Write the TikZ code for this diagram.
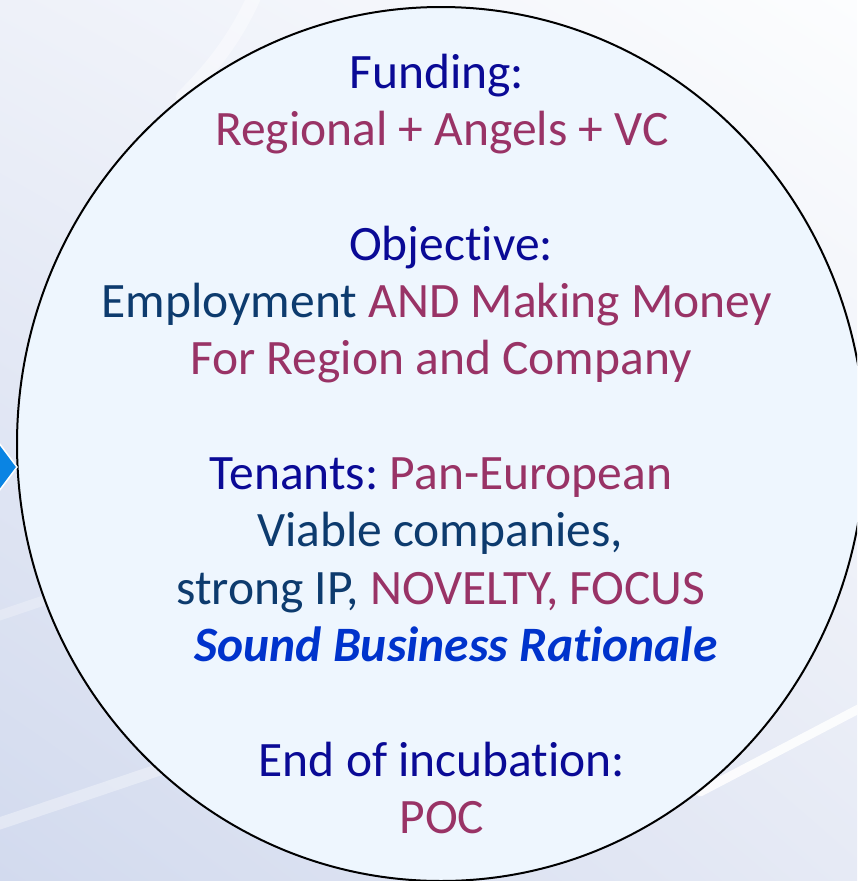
\documentclass[tikz,border=0pt]{standalone}
\usepackage{fontspec}
\setmainfont{Carlito}[Ligatures={NoCommon}]
\usetikzlibrary{shapes.geometric,shadings}
\definecolor{cNavy}{HTML}{0A0A96}
\definecolor{cDeep}{HTML}{0D3B6E}
\definecolor{cPlum}{HTML}{993366}
\definecolor{cBlue}{HTML}{0033CC}
\definecolor{cDisc}{HTML}{EEF6FE}
\definecolor{cArrow}{HTML}{0A84E3}
\definecolor{bgUL}{HTML}{EEF1F9}
\definecolor{bgUR}{HTML}{FCFDFE}
\definecolor{bgLL}{HTML}{D2DAEE}
\definecolor{bgLR}{HTML}{E6EAF5}
\frenchspacing
\begin{document}
\begin{tikzpicture}[x=1pt,y=-1pt,
  txt/.style={anchor=base, inner sep=0pt, font=\fontsize{49.5}{58}\selectfont},
  streak/.style={white, line cap=round}]
\useasboundingbox (0,0) rectangle (857,881);
\clip (0,0) rectangle (857,881);
\shade[upper left=bgUL, upper right=bgUR, lower left=bgLL, lower right=bgLR] (0,0) rectangle (857,881);
% soft streaks
\draw[streak, line width=14pt, opacity=0.4] (255,-5) .. controls (235,40) and (210,70) .. (183,97);
\draw[streak, line width=9pt, opacity=0.85] (870,703) -- (700,792);
\draw[streak, line width=12pt, opacity=0.35] (-5,825) -- (170,766);
\draw[streak, line width=10pt, opacity=0.25] (-5,617) -- (60,595);
% disc
\node (disc) [ellipse, draw=black, line width=2pt, fill=cDisc, minimum width=848pt, minimum height=874pt, inner sep=0pt] at (441,444) {};
% arrow tip at left
\fill[cArrow, draw=white, line width=1.5pt] (-4,439) -- (17,467) -- (-4,495) -- cycle;
% text
\node[txt, text=cNavy] (l1) at (437,88) {Funding:};
\node[txt, text=cPlum] (l2) at (442,145) {Regional + Angels + VC};
\node[txt, text=cNavy] (l3) at (451,260) {Objective:};
\node[txt] (l4) at (437,317) {\textcolor{cDeep}{Employment} \textcolor{cPlum}{AND Making Money}};
\node[txt, text=cPlum] (l5) at (441,374) {For Region and Company};
\node[txt] (l6) at (441,489) {\textcolor{cNavy}{Tenants:} \textcolor{cPlum}{Pan-European}};
\node[txt, text=cDeep] (l7) at (440,546) {Viable companies,};
\node[txt] (l8) at (441,604) {\textcolor{cDeep}{strong IP,} \textcolor{cPlum}{NOVELTY, FOCUS}};
\node[txt, text=cBlue, font=\fontsize{49.5}{58}\selectfont\bfseries\itshape] (l9) at (456,661) {Sound Business Rationale};
\node[txt, text=cNavy] (l10) at (442,776) {End of incubation:};
\node[txt, text=cPlum] (l11) at (442,833) {POC};
\end{tikzpicture}
\end{document}
